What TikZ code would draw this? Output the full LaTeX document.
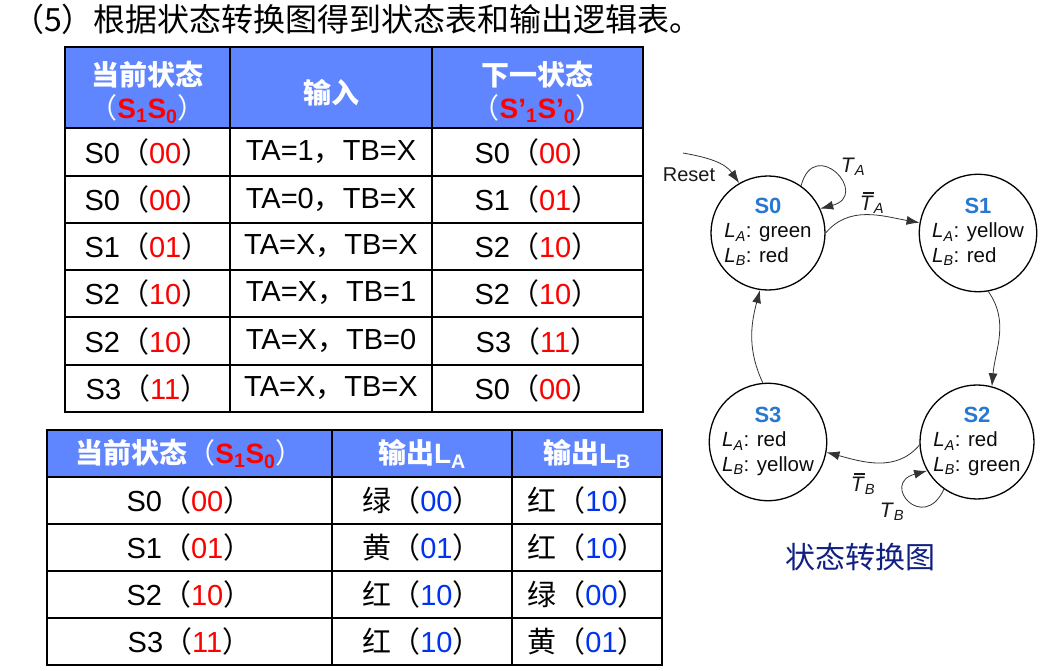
\documentclass[tikz,border=0pt]{standalone}
\usepackage{fontspec}
\setmainfont{Liberation Sans}
\newfontfamily\cjkf{Noto Sans CJK SC}
\usetikzlibrary{arrows.meta}

\definecolor{hdrblue}{RGB}{96,134,255}
\definecolor{bitred}{RGB}{255,0,0}
\definecolor{bitblue}{RGB}{0,51,240}
\definecolor{stateblue}{RGB}{40,120,210}
\definecolor{capnavy}{RGB}{16,32,128}

\newcommand{\stc}[2]{#1{\cjkf （}{\color{bitred}#2}{\cjkf ）}}
\newcommand{\outc}[2]{{\cjkf #1（}{\color{bitblue}#2}{\cjkf ）}}
\newcommand{\inp}[2]{TA=#1{\cjkf ，}TB=#2}
\newcommand{\sig}[2]{\textit{#1}\textsubscript{\textit{#2}}}
\newcommand{\nsig}[2]{\rlap{\hspace{0.14em}\rule[0.8em]{0.52em}{0.06em}}\textit{#1}\textsubscript{\textit{#2}}}
\newcommand{\stext}[3]{\begin{tabular}{@{}l@{}}\multicolumn{1}{@{}c@{}}{\fontsize{22}{24.5}\selectfont\textbf{\color{stateblue}#1}}\\\sig{L}{A}: #2\\\sig{L}{B}: #3\end{tabular}}

\begin{document}
\begin{tikzpicture}[x=1pt,y=1pt,
    cell/.style={font=\fontsize{29}{33}\selectfont, inner sep=0pt},
    head/.style={font=\fontsize{28}{33}\selectfont\bfseries, text=white, align=center, inner sep=0pt},
    tblline/.style={line width=2.4pt},
    stnode/.style={circle, draw, line width=1.3pt, minimum size=114pt, inner sep=0pt, text=black!95, font=\fontsize{20.5}{24.5}\selectfont},
    trans/.style={-{Latex[length=13pt,width=9pt]}, line width=0.8pt, draw=black!80},
    lbl/.style={font=\fontsize{21}{24}\selectfont, inner sep=0pt, text=black!90}]

    \useasboundingbox (0,0) rectangle (1050,670);

    \node[anchor=west, inner sep=0pt, font=\cjkf\fontsize{32}{36}\selectfont] (title) at (12,651) {（5）根据状态转换图得到状态表和输出逻辑表。};

    % state table
    \fill[hdrblue] (65,623) rectangle (643,542);
    \draw[tblline] (65,623) rectangle (643,258);
    \draw[tblline] (65,542) -- (643,542);
    \draw[tblline] (65,494) -- (643,494);
    \draw[tblline] (65,447) -- (643,447);
    \draw[tblline] (65,400) -- (643,400);
    \draw[tblline] (65,353) -- (643,353);
    \draw[tblline] (65,305) -- (643,305);
    \draw[tblline] (230,623) -- (230,258);
    \draw[tblline] (432,623) -- (432,258);

    \node[head] (h1) at (147.5,578) {{\cjkf 当前状态}\\{\cjkf\mdseries （}{\color{bitred}S\textsubscript{1}S\textsubscript{0}}{\cjkf\mdseries ）}};
    \node[head] (h2) at (331,577) {\cjkf 输入};
    \node[head] (h3) at (537.5,578) {{\cjkf 下一状态}\\{\cjkf\mdseries （}{\color{bitred}S\textquoteright\textsubscript{1}S\textquoteright\textsubscript{0}}{\cjkf\mdseries ）}};

    \node[cell] (a1) at (147.5,518) {\stc{S0}{00}};
    \node[cell] (b1) at (331,518) {\inp{1}{X}};
    \node[cell] (c1) at (537.5,518) {\stc{S0}{00}};
    \node[cell] (a2) at (147.5,470.5) {\stc{S0}{00}};
    \node[cell] (b2) at (331,470.5) {\inp{0}{X}};
    \node[cell] (c2) at (537.5,470.5) {\stc{S1}{01}};
    \node[cell] (a3) at (147.5,423.5) {\stc{S1}{01}};
    \node[cell] (b3) at (331,423.5) {\inp{X}{X}};
    \node[cell] (c3) at (537.5,423.5) {\stc{S2}{10}};
    \node[cell] (a4) at (147.5,376.5) {\stc{S2}{10}};
    \node[cell] (b4) at (331,376.5) {\inp{X}{1}};
    \node[cell] (c4) at (537.5,376.5) {\stc{S2}{10}};
    \node[cell] (a5) at (147.5,329) {\stc{S2}{10}};
    \node[cell] (b5) at (331,329) {\inp{X}{0}};
    \node[cell] (c5) at (537.5,329) {\stc{S3}{11}};
    \node[cell] (a6) at (147.5,281.5) {\stc{S3}{11}};
    \node[cell] (b6) at (331,281.5) {\inp{X}{X}};
    \node[cell] (c6) at (537.5,281.5) {\stc{S0}{00}};

    % output table
    \fill[hdrblue] (47,240) rectangle (662,193);
    \draw[tblline] (47,240) rectangle (662,5);
    \draw[tblline] (47,193) -- (662,193);
    \draw[tblline] (47,146) -- (662,146);
    \draw[tblline] (47,99) -- (662,99);
    \draw[tblline] (47,52) -- (662,52);
    \draw[tblline] (332,240) -- (332,5);
    \draw[tblline] (512,240) -- (512,5);

    \node[head] (g1) at (189.5,216.5) {{\cjkf 当前状态}{\cjkf\mdseries （}{\color{bitred}S\textsubscript{1}S\textsubscript{0}}{\cjkf\mdseries ）}};
    \node[head] (g2) at (422,216.5) {{\cjkf 输出}L\textsubscript{A}};
    \node[head] (g3) at (587,216.5) {{\cjkf 输出}L\textsubscript{B}};

    \node[cell] (p1) at (189.5,169.5) {\stc{S0}{00}};
    \node[cell] (q1) at (422,169.5) {\outc{绿}{00}};
    \node[cell] (r1) at (587,169.5) {\outc{红}{10}};
    \node[cell] (p2) at (189.5,122.5) {\stc{S1}{01}};
    \node[cell] (q2) at (422,122.5) {\outc{黄}{01}};
    \node[cell] (r2) at (587,122.5) {\outc{红}{10}};
    \node[cell] (p3) at (189.5,75.5) {\stc{S2}{10}};
    \node[cell] (q3) at (422,75.5) {\outc{红}{10}};
    \node[cell] (r3) at (587,75.5) {\outc{绿}{00}};
    \node[cell] (p4) at (189.5,28.5) {\stc{S3}{11}};
    \node[cell] (q4) at (422,28.5) {\outc{红}{10}};
    \node[cell] (r4) at (587,28.5) {\outc{黄}{01}};

    % state diagram
    \node[stnode] (s0) at (768,437) {\stext{S0}{green}{red}};
    \node[stnode] (s1) at (978,437) {\stext{S1}{yellow}{red}};
    \node[stnode] (s2) at (977,228) {\stext{S2}{red}{green}};
    \node[stnode] (s3) at (768,228) {\stext{S3}{red}{yellow}};

    \coordinate (rst) at (683,517);
    \node[lbl, font=\fontsize{20}{24}\selectfont] (reset) at (689,495) {Reset};
    \draw[trans] (rst) to[out=-10,in=125] (s0.120);
    \draw[trans] (s0.55) to[out=75,in=15,looseness=4.5] (s0.25);
    \draw[trans] (s0.0) to[out=50,in=170] (s1.170);
    \draw[trans] (s1.-80) to[out=-55,in=85] (s2.75);
    \draw[trans] (s2.183) to[out=-130,in=-15] (s3.-10);
    \draw[trans] (s2.235) to[out=-115,in=-165,looseness=5] (s2.210);
    \draw[trans] (s3.95) to[out=115,in=-105] (s0.262);

    \node[lbl] (ta) at (853,503) {\sig{T}{A}};
    \node[lbl] (nta) at (872,467) {\nsig{T}{A}};
    \node[lbl] (ntb) at (863,186) {\nsig{T}{B}};
    \node[lbl] (tb) at (892,158) {\sig{T}{B}};

    \node[inner sep=0pt, text=capnavy, font=\cjkf\fontsize{30}{34}\selectfont] (cap) at (860,113) {状态转换图};
\end{tikzpicture}
\end{document}
